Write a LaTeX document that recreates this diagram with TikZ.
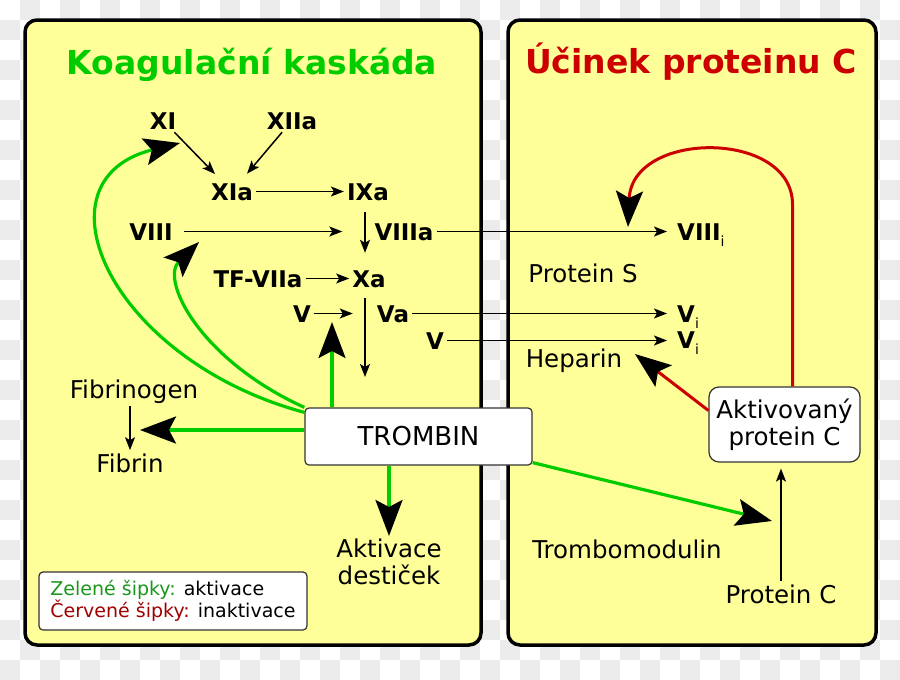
\documentclass[tikz,border=0pt]{standalone}
\usepackage{fontspec}
\setmainfont{DejaVu Sans}
\usetikzlibrary{arrows.meta,positioning}
\definecolor{coagYellow}{HTML}{FFFF99}
\definecolor{coagGreen}{HTML}{00CC00}
\definecolor{coagRed}{HTML}{CC0000}
\definecolor{coagLegendGreen}{HTML}{1A961A}
\definecolor{coagLegendRed}{HTML}{A00000}
\definecolor{coagChecker}{HTML}{EBEBEB}
\definecolor{coagFrame}{HTML}{333333}
\newcommand{\subi}{\raisebox{-6pt}{\fontsize{14}{14}\selectfont\mdseries i}}
\tikzset{
  coag panel/.style={draw=black, line width=3.5pt, rounded corners=12pt, fill=coagYellow},
  coag title/.style={font=\bfseries\fontsize{33}{36}\selectfont, inner sep=0pt, anchor=base},
  coag factor/.style={font=\bfseries\fontsize{23}{25}\selectfont, inner sep=3pt,
    text height=17pt, text depth=0pt, anchor=base},
  coag text/.style={font=\fontsize{24.5}{27}\selectfont, inner sep=3pt, anchor=base},
  coag box/.style={draw=coagFrame, line width=1.2pt, fill=white, align=center,
    font=\fontsize{24.5}{27}\selectfont},
  coag thin/.style={-{Stealth[length=13pt,width=10pt,inset=3pt]}, draw=black, line width=1.5pt},
  coag green/.style={-{Stealth[length=36pt,width=27pt,inset=7pt,color=black]},
    draw=coagGreen, line width=3.2pt},
  coag red/.style={-{Stealth[length=36pt,width=27pt,inset=7pt,color=black]},
    draw=coagRed, line width=3pt}
}

\begin{document}
\begin{tikzpicture}[x=1pt,y=-1pt]
  \useasboundingbox (0,0) rectangle (900,680);
  % checker background
  \foreach \j in {0,...,33}{
    \foreach \i in {0,...,44}{
      \ifodd\numexpr\i+\j\relax
        \fill[coagChecker] (20*\i,20*\j) rectangle ++(20,20);
      \fi
    }
  }
  \draw[coag panel] (25,20) rectangle (481,645);
  \draw[coag panel] (508,20) rectangle (876,645);

  \node[coag title, text=coagGreen] (title left) at (252,74) {Koagulační kaskáda};
  \node[coag title, text=coagRed] (title right) at (691,73) {Účinek proteinu C};

  % factors
  \node[coag factor] (xi) at (163,129) {XI};
  \node[coag factor] (xiia) at (292,129) {XIIa};
  \node[coag factor] (xia) at (232,200) {XIa};
  \node[coag factor] (ixa) at (368,200) {IXa};
  \node[coag factor] (viii) at (151,240) {VIII};
  \node[coag factor] (viiia) at (404,240) {VIIIa};
  \node[coag factor] (tfviia) at (258,287) {TF-VIIa};
  \node[coag factor] (xa) at (369,287) {Xa};
  \node[coag factor] (v) at (302,322) {V};
  \node[coag factor] (va) at (393,322) {Va};
  \node[coag factor] (vtwo) at (435,349) {V};
  \node[coag factor, anchor=base west] (viiii) at (674,240) {VIII\subi};
  \node[coag factor, anchor=base west] (vione) at (674,322) {V\subi};
  \node[coag factor, anchor=base west] (vitwo) at (674,348) {V\subi};

  \node[coag text] (fibrinogen) at (134,398) {Fibrinogen};
  \node[coag text] (fibrin) at (130,472) {Fibrin};
  \node[coag text, anchor=north, align=center] (aktivace) at (389,536) {Aktivace\\destiček};
  \node[coag text] (proteins) at (583,282) {Protein S};
  \node[coag text] (heparin) at (574,367) {Heparin};
  \node[coag text] (trombomodulin) at (627,558) {Trombomodulin};
  \node[coag text] (proteinc) at (781,603) {Protein C};

  \node[coag box, rounded corners=4pt, font=\fontsize{26}{28}\selectfont,
    minimum width=227pt, minimum height=57pt] (trombin) at (418.5,436.5) {TROMBIN};
  \node[coag box, rounded corners=10pt, minimum width=151pt, minimum height=75pt]
    (apc) at (784.5,424.5) {Aktivovaný\\protein C};
  \node[coag box, rounded corners=4pt, align=left, font=\fontsize{19}{22}\selectfont,
    minimum width=268pt, minimum height=58pt] (legend) at (173,601)
    {\textcolor{coagLegendGreen}{Zelené šipky:} aktivace\\
     \textcolor{coagLegendRed}{Červené šipky:} inaktivace};

  \coordinate (xi hit) at (180,143);
  \coordinate (viii hit) at (199,242);
  \coordinate (va hit) at (332,322);
  \coordinate (fibrin hit) at (140,430);
  \coordinate (tm hit) at (772,521);
  \coordinate (heparin hit) at (635,354);
  \coordinate (viiii hit) at (628,227);
  \coordinate (xa end) at (365,377);

  % cascade
  \draw[coag thin, shorten >=8pt] (xi) -- (xia);
  \draw[coag thin, shorten >=8pt] (xiia) -- (xia);
  \draw[coag thin] (xia) -- (ixa);
  \draw[coag thin, shorten <=9pt, shorten >=14pt] ([xshift=-3pt]ixa.south) -- ([xshift=-4pt]xa.north);
  \draw[coag thin, shorten <=8pt, shorten >=29pt] (viii) -- (viiia);
  \draw[coag thin] (tfviia) -- (xa);
  \draw[coag thin, shorten >=21pt] (v) -- (va);
  \draw[coag thin, shorten <=8pt] ([xshift=-4pt]xa.south) -- (xa end);
  \draw[coag thin, shorten >=7pt] (viiia) -- (viiii);
  \draw[coag thin, shorten >=7pt] (va) -- (vione);
  \draw[coag thin, shorten >=7pt] (vtwo.east) -- (vtwo.east -| vitwo.west);
  \draw[coag thin] (fibrinogen.south -| fibrin.north) -- (fibrin.north);
  \draw[coag thin, shorten >=6pt] (proteinc.north) -- (proteinc.north |- apc.south);

  % thrombin activation
  \draw[coag green] ([yshift=-5pt]trombin.north west) .. controls (110,360) and (30,180) .. (xi hit);
  \draw[coag green] (trombin.north west) .. controls (200,360) and (160,280) .. (viii hit);
  \draw[coag green] (va hit |- trombin.north) -- (va hit);
  \draw[coag green] (trombin.west |- fibrin hit) -- (fibrin hit);
  \draw[coag green] (trombin.south -| aktivace.north) -- (aktivace.north);
  \draw[coag green] ([yshift=3pt]trombin.south east) -- (tm hit);

  % protein C inactivation
  \draw[coag red] ([yshift=14pt]apc.west) -- (heparin hit);
  \draw[coag red] ([xshift=8pt]apc.north) -- ++(0,-182)
    .. controls +(0,-75) and (632,130) .. (viiii hit);
\end{tikzpicture}
\end{document}
